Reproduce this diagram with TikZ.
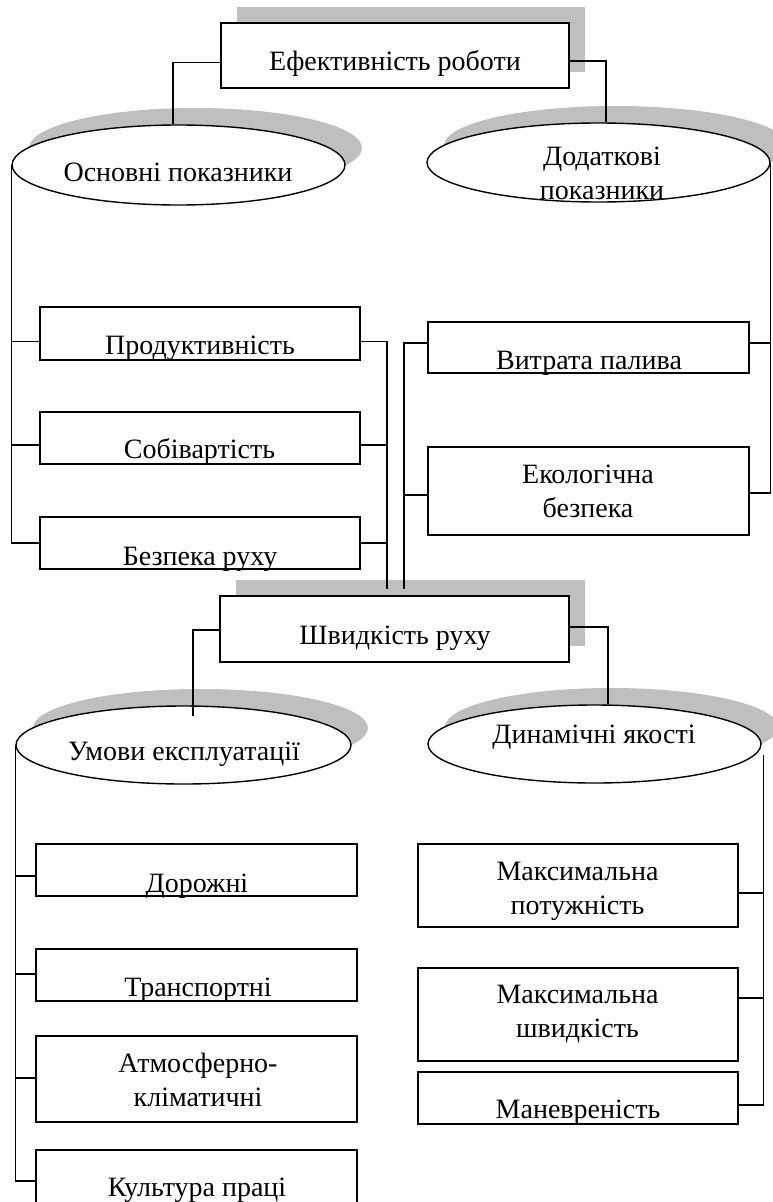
\documentclass[tikz,border=0pt]{standalone}
\usepackage{fontspec}
\setmainfont{Liberation Serif}
\usetikzlibrary{shapes.geometric,shadows,calc}
\definecolor{shgray}{RGB}{191,191,191}
\newcommand\twoline[2]{\vtop{\halign{\hfil##\hfil\cr#1\cr#2\cr}}}
\begin{document}
\begin{tikzpicture}[x=1pt,y=-1pt,
  box/.style={draw, rectangle, line width=1.4pt, fill=white, inner sep=0pt},
  shbox/.style={box, general shadow={shadow xshift=15.5pt, shadow yshift=16.5pt, fill=shgray, draw=none}},
  oval/.style={draw, ellipse, line width=1.4pt, fill=white, inner sep=0pt,
    general shadow={shadow xshift=17pt, shadow yshift=17pt, fill=shgray, draw=none}},
  txt/.style={font=\fontsize{28}{34}\selectfont, anchor=base, inner sep=0pt},
  con/.style={line width=1.1pt}]
\useasboundingbox (0,0) rectangle (772,1202);

% top level
\node[shbox, minimum width=348pt, minimum height=65pt] (eff) at (395,55.5) {};
\node[oval, minimum width=333pt, minimum height=80pt] (osn) at (178.5,165) {};
\node[oval, minimum width=343pt, minimum height=79pt] (dod) at (598.5,162.5) {};

% left boxes
\node[box, minimum width=320pt, minimum height=53pt] (prod) at (200,333.5) {};
\node[box, minimum width=320pt, minimum height=52pt] (sob) at (200,438) {};
\node[box, minimum width=320pt, minimum height=52pt] (bez) at (200,543) {};
% right boxes
\node[box, minimum width=321pt, minimum height=51pt] (vyt) at (588.5,347.5) {};
\node[box, minimum width=321pt, minimum height=88pt] (eko) at (588.5,491) {};

% second level
\node[shbox, minimum width=349pt, minimum height=66pt] (shv) at (394.5,629) {};
\node[oval, minimum width=335pt, minimum height=78pt] (umo) at (183.5,745) {};
\node[oval, minimum width=333pt, minimum height=78pt] (dyn) at (594.5,744) {};

% lower left boxes
\node[box, minimum width=321pt, minimum height=52pt] (dor) at (196.5,870) {};
\node[box, minimum width=321pt, minimum height=52pt] (tra) at (196.5,975) {};
\node[box, minimum width=321pt, minimum height=86pt] (atm) at (196.5,1079) {};
\node[box, minimum width=321pt, minimum height=55pt] (kul) at (196.5,1177.5) {};
% lower right boxes
\node[box, minimum width=320pt, minimum height=83pt] (pot) at (578,885.5) {};
\node[box, minimum width=320pt, minimum height=93pt] (shw) at (578,1014.5) {};
\node[box, minimum width=320pt, minimum height=52pt] (man) at (578,1098) {};

% texts
\node[txt] (t-eff) at (395,70) {Ефективність роботи};
\node[txt] (t-osn) at (178,181) {Основні показники};
\node[txt] (t-dod) at (602,165) {\twoline{Додаткові}{показники}};
\node[txt] (t-prod) at (200,354) {Продуктивність};
\node[txt] (t-sob) at (199.5,458) {Собівартість};
\node[txt] (t-bez) at (200,565) {Безпека руху};
\node[txt] (t-vyt) at (589,369) {Витрата палива};
\node[txt] (t-eko) at (588,483) {\twoline{Екологічна}{безпека}};
\node[txt] (t-shv) at (395,644) {Швидкість руху};
\node[txt] (t-umo) at (184,760) {Умови експлуатації};
\node[txt] (t-dyn) at (594,743) {Динамічні якості};
\node[txt] (t-dor) at (197,892) {Дорожні};
\node[txt] (t-tra) at (198,996) {Транспортні};
\node[txt] (t-atm) at (198,1072) {\twoline{Атмосферно-}{кліматичні}};
\node[txt] (t-kul) at (197,1196) {Культура праці};
\node[txt] (t-pot) at (577.5,880) {\twoline{Максимальна}{потужність}};
\node[txt] (t-shw) at (577.5,1003) {\twoline{Максимальна}{швидкість}};
\node[txt] (t-man) at (578,1118) {Маневреність};

% connectors: top box to ovals
\coordinate (e1) at ($(eff.west)+(0,7)$);
\draw[con] (e1) -| ($(osn.north)+(-5.5,0)$);
\coordinate (e2) at ($(eff.east)+(0,5.5)$);
\draw[con] (e2) -| ($(dod.north)+(7.5,0)$);

% left oval to left boxes
\coordinate (p1) at ($(prod.west)+(0,8)$);
\coordinate (p2) at ($(sob.west)+(0,7)$);
\coordinate (p3) at (bez.west);
\draw[con] (osn.west) |- (p3);
\draw[con] (p1) -- (p1 -| osn.west);
\draw[con] (p2) -- (p2 -| osn.west);

% left boxes to second-level box
\coordinate (q1) at ($(prod.east)+(0,8)$);
\coordinate (q2) at ($(sob.east)+(0,7)$);
\coordinate (q3) at (bez.east);
\coordinate (j1) at ($(shv.north)+(-7.5,-6)$);
\draw[con] (q1) -| (j1);
\draw[con] (q2) -- (q2 -| j1);
\draw[con] (q3) -- (q3 -| j1);

% right boxes to second-level box
\coordinate (r1) at ($(vyt.west)+(0,-4.5)$);
\coordinate (r2) at ($(eko.west)+(0,4)$);
\coordinate (j2) at ($(shv.north)+(9.5,-6)$);
\draw[con] (r1) -| (j2);
\draw[con] (r2) -- (r2 -| j2);

% right oval to right boxes
\coordinate (s1) at ($(vyt.east)+(0,-4.5)$);
\coordinate (s2) at ($(eko.east)+(0,2)$);
\draw[con] (dod.east) |- (s2);
\draw[con] (s1) -- (s1 -| dod.east);

% second-level box to ovals
\coordinate (w1) at ($(shv.west)+(0,1)$);
\draw[con] (w1) -| ($(umo.north)+(9.5,11)$);
\coordinate (w2) at ($(shv.east)+(0,-2)$);
\draw[con] (w2) -| ($(dyn.north)+(13.5,0)$);

% lower left oval to boxes
\coordinate (u1) at ($(dor.west)+(0,6)$);
\coordinate (u2) at ($(tra.west)+(0,-1)$);
\coordinate (u3) at ($(atm.west)+(0,-1)$);
\coordinate (u4) at ($(kul.west)+(0,3.5)$);
\draw[con] (umo.west) |- (u4);
\draw[con] (u1) -- (u1 -| umo.west);
\draw[con] (u2) -- (u2 -| umo.west);
\draw[con] (u3) -- (u3 -| umo.west);

% lower right oval to boxes
\coordinate (d0) at ($(dyn.east)+(2,11)$);
\coordinate (v1) at ($(pot.east)+(0,7.5)$);
\coordinate (v2) at ($(shw.east)+(0,-16.5)$);
\coordinate (v3) at ($(man.east)+(0,7)$);
\draw[con] (d0) |- (v3);
\draw[con] (v1) -- (v1 -| d0);
\draw[con] (v2) -- (v2 -| d0);
\end{tikzpicture}
\end{document}
